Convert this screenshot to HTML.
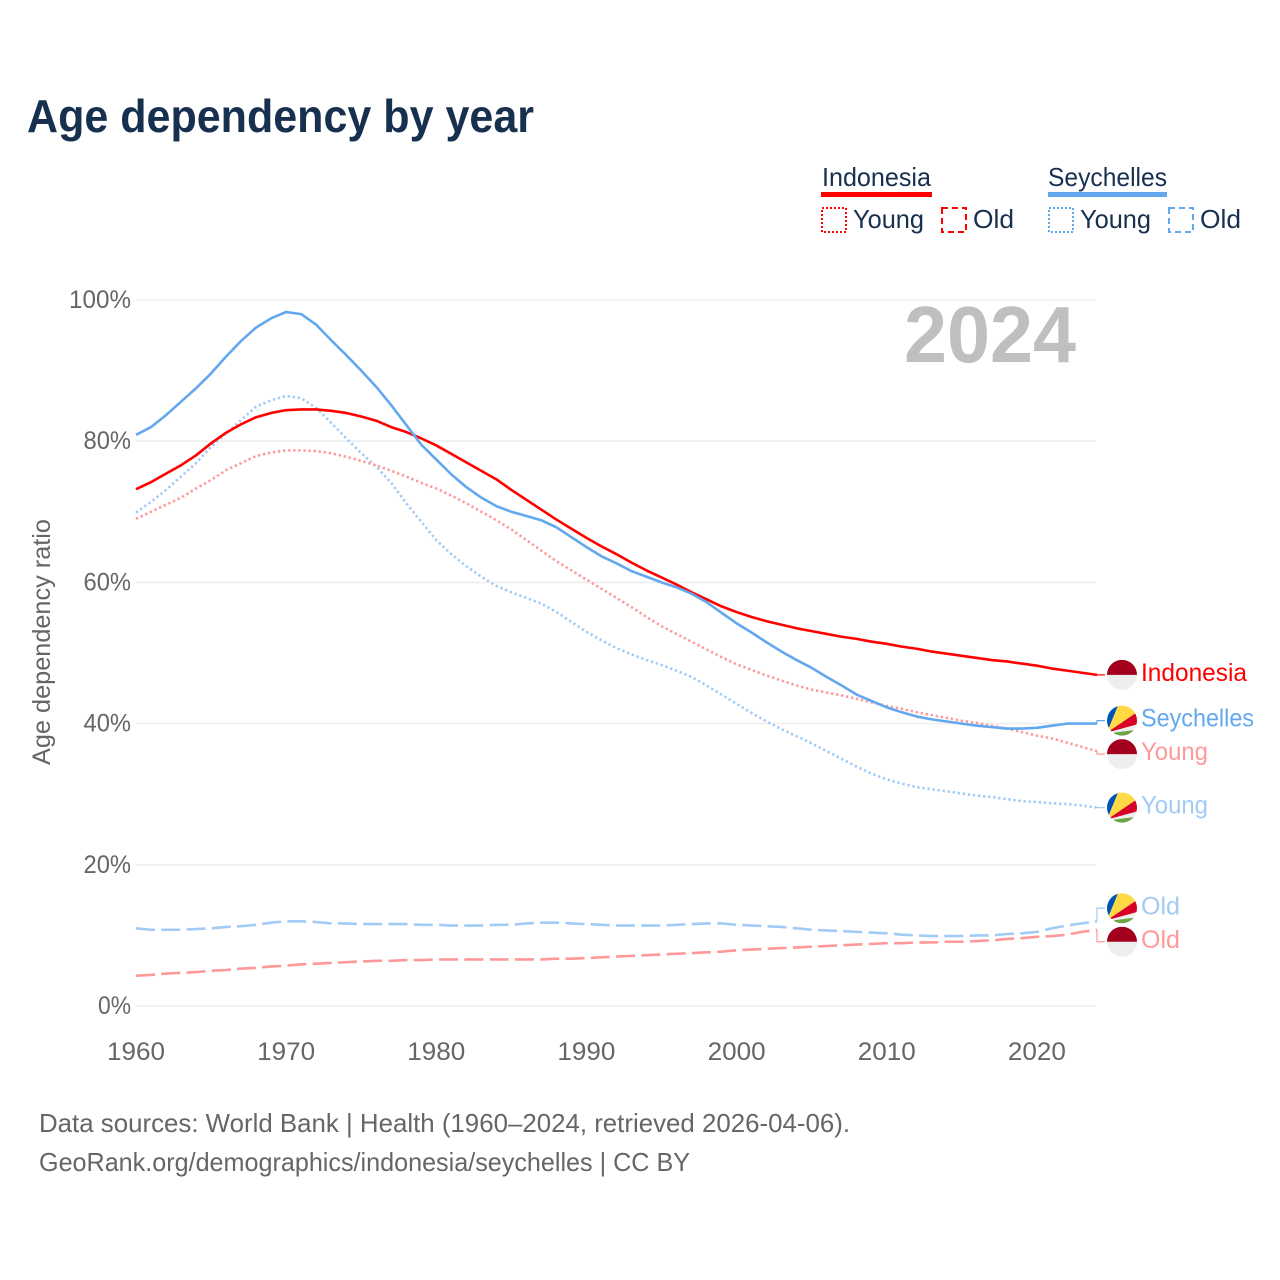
<!DOCTYPE html>
<html lang="en">
<head>
<meta charset="utf-8">
<title>Age dependency by year</title>
<style>
html,body{margin:0;padding:0;background:#fff;}
svg{display:block;font-family:"Liberation Sans",sans-serif;}
</style>
</head>
<body>
<svg id="chart" xmlns="http://www.w3.org/2000/svg" width="1280" height="1280" viewBox="0 0 1280 1280">
  <defs>
    <clipPath id="flag-clip"><circle cx="0" cy="0" r="15"/></clipPath>
    <g id="flag-indonesia" clip-path="url(#flag-clip)">
      <rect x="-15" y="-15" width="30" height="30" fill="#eeeeee"/>
      <rect x="-15" y="-15" width="30" height="15" fill="#a2001d"/>
    </g>
    <g id="flag-seychelles" clip-path="url(#flag-clip)">
      <rect x="-15" y="-15" width="30" height="30" fill="#eeeeee"/>
      <polygon points="-15,12 -18,-16 -3.5,-16" fill="#0052b4"/>
      <polygon points="-15,12 -3.5,-16 16,-16 16,-9" fill="#ffda44"/>
      <polygon points="-15,12 16,-9 16,3.5" fill="#d80027"/>
      <polygon points="-8,12 16,9 16,16 -8,16" fill="#6da544"/>
    </g>
  </defs>

  <text x="27" y="132" font-size="46" font-weight="700" fill="#17304f" textLength="507" lengthAdjust="spacingAndGlyphs">Age dependency by year</text>

  <g>
    <g>
      <text x="822" y="186" font-size="26" fill="#17304f" textLength="109" lengthAdjust="spacingAndGlyphs">Indonesia</text>
      <rect x="821" y="192" width="111" height="5" fill="#ff0000"/>
      <rect x="822" y="208" width="24" height="24" fill="none" stroke="#ff0000" stroke-width="2" stroke-dasharray="2 2"/>
      <text x="853" y="228" font-size="26" fill="#17304f" textLength="71" lengthAdjust="spacingAndGlyphs">Young</text>
      <rect x="942" y="208" width="24" height="24" fill="none" stroke="#ff0000" stroke-width="2" stroke-dasharray="6 4"/>
      <text x="973" y="228" font-size="26" fill="#17304f" textLength="41" lengthAdjust="spacingAndGlyphs">Old</text>
    </g>
    <g>
      <text x="1048" y="186" font-size="26" fill="#17304f" textLength="119" lengthAdjust="spacingAndGlyphs">Seychelles</text>
      <rect x="1048" y="192" width="119" height="5" fill="#63a8ee"/>
      <rect x="1049" y="208" width="24" height="24" fill="none" stroke="#63a8ee" stroke-width="2" stroke-dasharray="2 2"/>
      <text x="1080" y="228" font-size="26" fill="#17304f" textLength="71" lengthAdjust="spacingAndGlyphs">Young</text>
      <rect x="1169" y="208" width="24" height="24" fill="none" stroke="#63a8ee" stroke-width="2" stroke-dasharray="6 4"/>
      <text x="1200" y="228" font-size="26" fill="#17304f" textLength="41" lengthAdjust="spacingAndGlyphs">Old</text>
    </g>
  </g>

  <g id="grid"></g>
  <g id="yticks"></g>
  <g id="xticks"></g>

  <text transform="translate(50 642) rotate(-90)" text-anchor="middle" font-size="25" fill="#666666" textLength="246" lengthAdjust="spacingAndGlyphs">Age dependency ratio</text>
  <text x="1076" y="362" text-anchor="end" font-size="80" font-weight="700" fill="#bfbfbf" textLength="172" lengthAdjust="spacingAndGlyphs">2024</text>

  <g id="series"></g>
  <g id="labels"></g>

  <g>
    <text x="39" y="1132" font-size="26" fill="#666666" textLength="811" lengthAdjust="spacingAndGlyphs">Data sources: World Bank | Health (1960–2024, retrieved 2026-04-06).</text>
    <text x="39" y="1171" font-size="26" fill="#666666" textLength="651" lengthAdjust="spacingAndGlyphs">GeoRank.org/demographics/indonesia/seychelles | CC BY</text>
  </g>
</svg>
<script>
var startYear = 1960;
var xTickYears = [1960, 1970, 1980, 1990, 2000, 2010, 2020];
var yTickValues = [0, 20, 40, 60, 80, 100];

var seychellesTotal = [80.9,82.0,83.7,85.6,87.5,89.6,92.0,94.2,96.1,97.4,98.3,98.0,96.5,94.3,92.2,90.0,87.7,85.1,82.3,79.5,77.4,75.3,73.5,72.0,70.8,70.0,69.4,68.8,67.8,66.4,65.0,63.7,62.7,61.6,60.8,60.0,59.3,58.4,57.2,55.7,54.2,52.9,51.5,50.2,49.0,47.9,46.6,45.4,44.1,43.2,42.3,41.6,41.0,40.6,40.3,40.0,39.7,39.5,39.3,39.3,39.4,39.7,40.0,40.0,40.0];
var seychellesYoung = [69.9,71.4,73.1,75.0,76.9,79.2,81.1,83.0,84.9,85.8,86.4,86.1,84.7,82.6,80.4,78.3,76.4,74.1,71.2,68.6,66.0,64.0,62.3,60.8,59.5,58.6,57.8,57.0,55.8,54.4,53.0,51.8,50.7,49.8,49.0,48.3,47.5,46.6,45.4,44.1,42.8,41.5,40.3,39.2,38.2,37.2,36.1,35.0,33.9,32.9,32.1,31.5,31.0,30.7,30.4,30.1,29.8,29.6,29.3,29.0,28.9,28.7,28.6,28.4,28.1];
var seychellesOld = [11.0,10.8,10.8,10.8,10.9,11.0,11.2,11.3,11.5,11.8,12.0,12.0,11.9,11.7,11.7,11.6,11.6,11.6,11.6,11.5,11.5,11.4,11.4,11.4,11.5,11.5,11.7,11.8,11.8,11.7,11.6,11.5,11.4,11.4,11.4,11.4,11.5,11.6,11.7,11.7,11.5,11.4,11.3,11.2,11.0,10.8,10.7,10.6,10.5,10.4,10.3,10.1,10.0,9.9,9.9,9.9,10.0,10.0,10.2,10.3,10.5,11.0,11.4,11.7,12.0];
var indonesiaTotal = [73.2,74.2,75.4,76.6,78.0,79.7,81.2,82.4,83.4,84.0,84.4,84.5,84.5,84.3,84.0,83.5,82.9,82.0,81.3,80.4,79.4,78.2,77.0,75.8,74.6,73.1,71.7,70.3,68.9,67.6,66.3,65.1,64.0,62.8,61.7,60.7,59.7,58.6,57.6,56.6,55.8,55.1,54.5,54.0,53.5,53.1,52.7,52.3,52.0,51.6,51.3,50.9,50.6,50.2,49.9,49.6,49.3,49.0,48.8,48.5,48.2,47.8,47.5,47.2,46.9];
var indonesiaYoung = [69.0,70.0,71.0,72.0,73.3,74.5,75.9,76.9,77.9,78.4,78.7,78.7,78.6,78.3,77.8,77.2,76.6,75.8,75.0,74.1,73.3,72.3,71.2,70.0,68.8,67.5,66.0,64.5,63.0,61.7,60.4,59.1,57.8,56.5,55.1,53.8,52.7,51.6,50.5,49.4,48.4,47.6,46.8,46.1,45.4,44.8,44.4,44.0,43.5,43.0,42.5,42.1,41.6,41.2,40.8,40.4,40.1,39.7,39.3,38.8,38.3,37.9,37.3,36.7,36.1];
var indonesiaOld = [4.3,4.4,4.6,4.7,4.8,5.0,5.1,5.3,5.4,5.6,5.7,5.9,6.0,6.1,6.2,6.3,6.4,6.4,6.5,6.5,6.6,6.6,6.6,6.6,6.6,6.6,6.6,6.6,6.7,6.7,6.8,6.9,7.0,7.1,7.2,7.3,7.4,7.5,7.6,7.7,7.9,8.0,8.1,8.2,8.3,8.4,8.5,8.6,8.7,8.8,8.9,8.9,9.0,9.0,9.1,9.1,9.2,9.3,9.5,9.6,9.8,9.9,10.1,10.5,10.8];

var NS = 'http://www.w3.org/2000/svg';
function xScale(year) { return 136 + (year - 1960) * 15.015; }
function yScale(v) { return 1006 - v * 7.06; }
function make(tag, attrs, parent) {
  var el = document.createElementNS(NS, tag);
  for (var k in attrs) { el.setAttribute(k, attrs[k]); }
  parent.appendChild(el);
  return el;
}

var gridG = document.getElementById('grid');
var yG = document.getElementById('yticks');
var xG = document.getElementById('xticks');
yTickValues.forEach(function (v) {
  var line = make('line', {x1: 136, x2: 1096, y1: yScale(v), y2: yScale(v), stroke: '#eeeeee', 'stroke-width': 1.6}, gridG);
  
  
  var label = v + '%';
  var t = make('text', {x: 131, y: yScale(v) + 8, 'text-anchor': 'end', 'font-size': 25, fill: '#666666', textLength: (label.length - 1) * 14.5 + 18.5, lengthAdjust: 'spacingAndGlyphs'}, yG);
  
  
  t.textContent = label;
});
xTickYears.forEach(function (yr) {
  var t = make('text', {x: xScale(yr), y: 1060, 'text-anchor': 'middle', 'font-size': 25, fill: '#666666', textLength: 58, lengthAdjust: 'spacingAndGlyphs'}, xG);
  
  
  t.textContent = String(yr);
});

var RED = '#ff0000', BLUE = '#63a8ee', LRED = '#ff9999', LBLUE = '#a1cbf5';
var DOT = '2.3 2.8', DASH = '19 6.3';
var seriesList = [
  {key: 'indonesia-old', values: indonesiaOld, color: LRED, dash: DASH, label: 'Old', flag: 'flag-indonesia', shift: 12, w: 39},
  {key: 'seychelles-old', values: seychellesOld, color: LBLUE, dash: DASH, label: 'Old', flag: 'flag-seychelles', shift: -13, w: 39},
  {key: 'seychelles-young', values: seychellesYoung, color: LBLUE, dash: DOT, label: 'Young', flag: 'flag-seychelles', shift: 0, w: 67},
  {key: 'indonesia-young', values: indonesiaYoung, color: LRED, dash: DOT, label: 'Young', flag: 'flag-indonesia', shift: 3, w: 67},
  {key: 'indonesia-total', values: indonesiaTotal, color: RED, dash: '', label: 'Indonesia', flag: 'flag-indonesia', shift: 0, w: 106},
  {key: 'seychelles-total', values: seychellesTotal, color: BLUE, dash: '', label: 'Seychelles', flag: 'flag-seychelles', shift: -3, w: 113}
];

var seriesG = document.getElementById('series');
var labelsG = document.getElementById('labels');
seriesList.forEach(function (s) {
  var d = s.values.map(function (v, i) {
    return (i ? 'L' : 'M') + xScale(startYear + i).toFixed(2) + ' ' + yScale(v).toFixed(2);
  }).join(' ');
  var path = make('path', {d: d, fill: 'none', stroke: s.color, 'stroke-width': 2.6, 'stroke-linejoin': 'round'}, seriesG);
  if (s.dash) { path.setAttribute('stroke-dasharray', s.dash); }
  
  

  var endX = xScale(startYear + s.values.length - 1);
  var endY = yScale(s.values[s.values.length - 1]);
  var labelY = endY + s.shift;
  var conn = make('path', {d: 'M' + endX + ' ' + endY + ' V' + labelY + ' H' + (endX + 8), fill: 'none', stroke: s.color, 'stroke-width': 1.2}, labelsG);
  
  

  var flag = make('use', {href: '#' + s.flag, x: 1122, y: labelY}, labelsG);
  
  

  var text = make('text', {x: 1141, y: labelY + 6, 'font-size': 25, fill: s.color, textLength: s.w, lengthAdjust: 'spacingAndGlyphs'}, labelsG);
  
  
  text.textContent = s.label;
});
</script>
</body>
</html>
